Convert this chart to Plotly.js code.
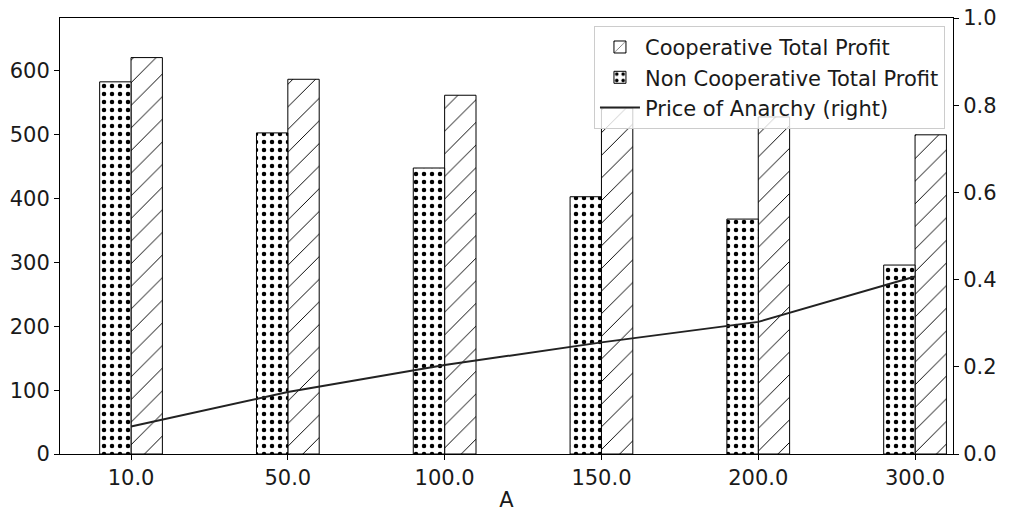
<!DOCTYPE html>
<html>
<head>
<meta charset="utf-8">
<script src="https://cdn.plot.ly/plotly-3.0.1.min.js"></script>
<style>html,body{margin:0;padding:0;background:#fff}#chart{width:1009px;height:512px}</style>
</head>
<body>
<div id="chart"></div>
<script>
const categories = ["10.0", "50.0", "100.0", "150.0", "200.0", "300.0"];
const cooperative = [621, 587, 562, 542, 528, 500];
const nonCooperative = [583, 503, 448, 403, 368, 296];
const priceOfAnarchy = [0.063, 0.142, 0.204, 0.256, 0.303, 0.407];

const pos = categories.map((c, i) => i);
const font = {family: "DejaVu Sans", size: 21, color: "#1a1a1a"};

const traces = [
  {
    type: "bar", name: "Cooperative Total Profit", x: pos, y: cooperative,
    width: 0.2, offset: 0,
    marker: {color: "#fff", line: {color: "#000", width: 1},
      pattern: {shape: "/", fgcolor: "#000", bgcolor: "#fff", size: 16, solidity: 0.06}},
    xaxis: "x", yaxis: "y"
  },
  {
    type: "bar", name: "Non Cooperative Total Profit", x: pos, y: nonCooperative,
    width: 0.2, offset: -0.2,
    marker: {color: "#fff", line: {color: "#000", width: 1},
      pattern: {shape: ".", fgcolor: "#000", bgcolor: "#fff", size: 8, solidity: 0.25}},
    xaxis: "x", yaxis: "y"
  },
  {
    type: "scatter", mode: "lines", name: "Price of Anarchy (right)", x: pos, y: priceOfAnarchy,
    line: {color: "#222", width: 2},
    xaxis: "x", yaxis: "y2"
  }
];

const layout = {
  width: 1009, height: 512,
  margin: {l: 60, r: 56, t: 18, b: 58},
  paper_bgcolor: "#fff", plot_bgcolor: "#fff",
  font: font,
  showlegend: true,
  legend: {
    x: 0.991, y: 0.982, xanchor: "right", yanchor: "top",
    bgcolor: "rgba(255,255,255,0.8)", bordercolor: "#ccc", borderwidth: 1,
    font: font, traceorder: "normal", itemwidth: 40,
    tracegroupgap: 0
  },
  xaxis: {
    range: [-0.453, 5.242], tickvals: pos, ticktext: categories,
    showline: true, linecolor: "#000", linewidth: 1, mirror: true,
    ticks: "outside", ticklen: 5, tickcolor: "#000",
    showgrid: false, zeroline: false,
    title: {text: "A", font: font, standoff: 4}
  },
  yaxis: {
    range: [0, 683], tickvals: [0, 100, 200, 300, 400, 500, 600],
    showline: true, linecolor: "#000", linewidth: 1,
    ticks: "outside", ticklen: 5, tickcolor: "#000",
    showgrid: false, zeroline: false
  },
  yaxis2: {
    overlaying: "y", side: "right", range: [0, 1.0],
    tickvals: [0, 0.2, 0.4, 0.6, 0.8, 1.0], tickformat: ".1f",
    showline: true, linecolor: "#000", linewidth: 1,
    ticks: "outside", ticklen: 5, tickcolor: "#000",
    showgrid: false, zeroline: false
  },
  bargap: 0
};

Plotly.newPlot("chart", traces, layout, {displayModeBar: false, staticPlot: true});
</script>
</body>
</html>
